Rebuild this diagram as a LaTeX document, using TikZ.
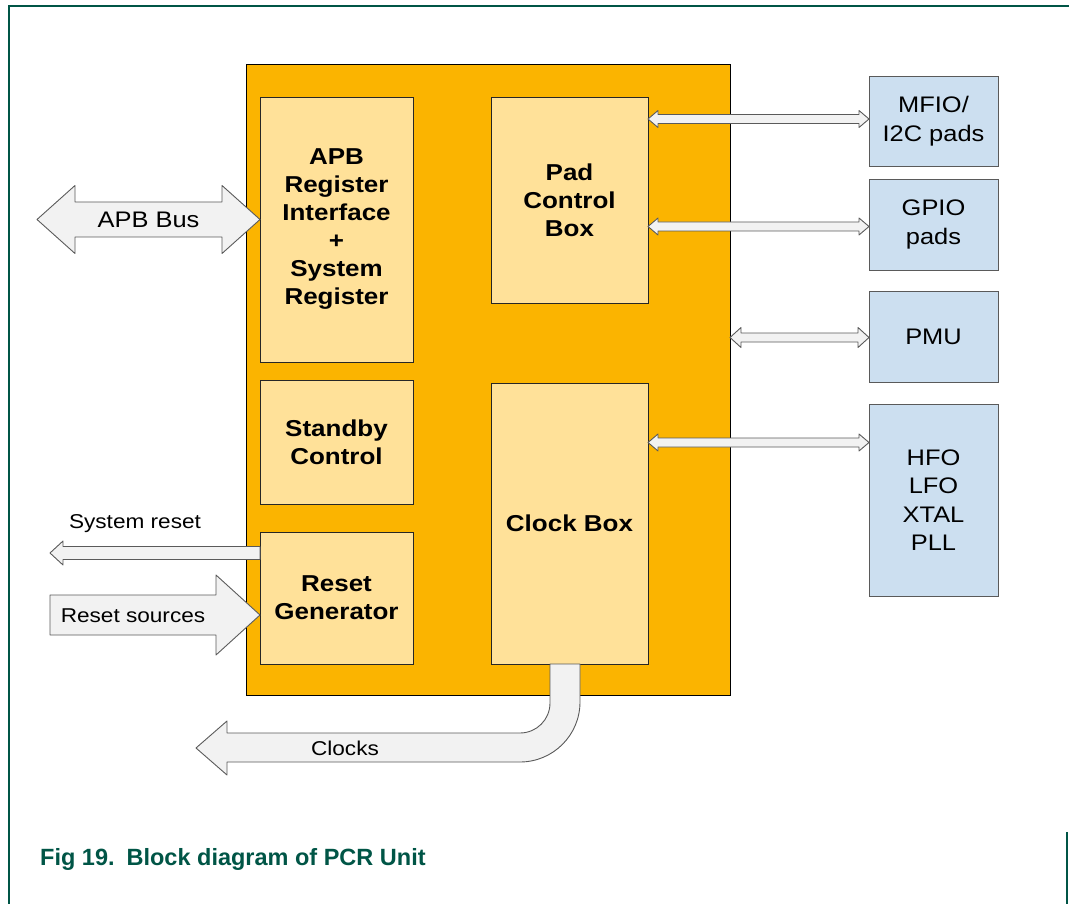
\documentclass[tikz,border=0pt]{standalone}
\usepackage{fontspec}
\setmainfont{Liberation Sans}[FakeStretch=1.13]
\newfontfamily\capfont{Liberation Sans}
\usetikzlibrary{calc}
\definecolor{pcrorange}{RGB}{251,180,0}
\definecolor{blkfill}{RGB}{255,225,153}
\definecolor{extfill}{RGB}{204,223,240}
\definecolor{arrfill}{RGB}{242,242,242}
\definecolor{arrline}{RGB}{90,90,90}
\definecolor{nxpgreen}{RGB}{0,85,70}
\tikzset{
  pcr/.style={draw=black, fill=pcrorange, anchor=north west, inner sep=0pt, outer sep=0pt, line width=1pt},
  blk/.style={draw=black!85, fill=blkfill, align=center, anchor=north west, inner sep=0pt, outer sep=0pt,
    line width=0.9pt, font=\fontsize{23pt}{28pt}\selectfont\bfseries},
  ext/.style={draw=arrline, fill=extfill, align=center, anchor=north west, inner sep=0pt, outer sep=0pt,
    line width=0.9pt, font=\fontsize{22.5pt}{28.5pt}\selectfont},
  arrowbody/.style={draw=arrline, fill=arrfill, line width=0.9pt, line join=round},
  lbl/.style={inner sep=0pt, font=\fontsize{20pt}{24pt}\selectfont},
  frameline/.style={draw=nxpgreen, line width=1.4pt}
}
% block arrow with two heads: left end, right end, half shaft, half head, head length
\newcommand{\twoway}[5]{%
  \draw[arrowbody] let \p1=(#1), \p2=(#2) in
    (\x1,\y1) -- ({\x1+#5pt},{\y1+#4pt}) -- ({\x1+#5pt},{\y1+#3pt})
    -- ({\x2-#5pt},{\y2+#3pt}) -- ({\x2-#5pt},{\y2+#4pt}) -- (\x2,\y2)
    -- ({\x2-#5pt},{\y2-#4pt}) -- ({\x2-#5pt},{\y2-#3pt})
    -- ({\x1+#5pt},{\y1-#3pt}) -- ({\x1+#5pt},{\y1-#4pt}) -- cycle;}
% block arrow with one head: tail, tip, half shaft, half head, signed head length
\newcommand{\oneway}[5]{%
  \draw[arrowbody] let \p1=(#1), \p2=(#2) in
    (\x1,{\y1+#3pt}) -- ({\x2-(#5pt)},{\y2+#3pt}) -- ({\x2-(#5pt)},{\y2+#4pt}) -- (\x2,\y2)
    -- ({\x2-(#5pt)},{\y2-#4pt}) -- ({\x2-(#5pt)},{\y2-#3pt}) -- (\x1,{\y1-#3pt}) -- cycle;}

\begin{document}
\begin{tikzpicture}[x=1pt, y=-1pt]
  \useasboundingbox (0,0) rectangle (1069,904);
  \draw[frameline] (1069,6) -- (9,6) -- (9,904);
  \draw[frameline] (1067,832) -- (1067,904);

  % PCR unit and its blocks
  \node[pcr, minimum width=484pt, minimum height=630pt] (pcr) at (246,65) {};
  \node[blk, minimum width=153pt, minimum height=265pt] (apb) at (260,97)
    {APB\\Register\\Interface\\+\\System\\Register};
  \node[blk, minimum width=153pt, minimum height=124pt] (sby) at (260,380) {Standby\\Control};
  \node[blk, minimum width=153pt, minimum height=132pt] (rst) at (260,532) {Reset\\Generator};
  \node[blk, minimum width=157pt, minimum height=206pt] (pad) at (491,97) {Pad\\Control\\Box};
  \node[blk, minimum width=157pt, minimum height=281pt] (clk) at (491,383) {Clock Box};

  % external blocks
  \node[ext, minimum width=129pt, minimum height=90pt] (mfio) at (869,76) {MFIO/\\I2C pads};
  \node[ext, minimum width=129pt, minimum height=91pt] (gpio) at (869,179) {GPIO\\pads};
  \node[ext, minimum width=129pt, minimum height=91pt] (pmu) at (869,291) {PMU};
  \node[ext, minimum width=129pt, minimum height=192pt] (osc) at (869,404) {HFO\\LFO\\XTAL\\PLL};

  % bus side
  \coordinate (apbend) at (37,219.5);
  \twoway{apbend}{apb.west |- apbend}{17.5}{34}{38}
  \node[lbl, font=\fontsize{22.5pt}{27pt}\selectfont] (apblbl) at ($(apbend)!0.5!(apb.west |- apbend)$) {APB Bus};

  % resets
  \coordinate (sysend) at (50,553);
  \coordinate (sysout) at ([yshift=-21pt]rst.north west);
  \oneway{sysout}{sysend}{6.5}{12}{-13}
  \node[lbl] (syslbl) at (135,524) {System reset};
  \coordinate (srcend) at (50,615);
  \coordinate (srcin) at ([yshift=-17pt]rst.west);
  \oneway{srcend}{srcin}{20}{40}{44}
  \node[lbl] (srclbl) at (133,616) {Reset sources};

  % clocks out
  \coordinate (ck1) at ([xshift=-19.5pt]clk.south);
  \coordinate (ck2) at ([xshift=10.5pt]clk.south);
  \coordinate (clkend) at (196,748);
  \draw[arrowbody] (ck1) -- (550,703) .. controls (550,719.6) and (536.6,733) .. (520,733)
    -- (227,733) -- (227,721) -- (clkend) -- (227,775) -- (227,762) -- (520,762)
    .. controls (553.1,762) and (580,735.1) .. (580,702) -- (ck2) -- cycle;
  \node[lbl] (clklbl) at (345,748) {Clocks};

  % pad and oscillator links
  \coordinate (mfiop) at ([yshift=2pt]mfio.west);
  \coordinate (gpiop) at ([yshift=-2pt]gpio.west);
  \coordinate (pmup) at ([yshift=-1pt]pmu.west);
  \coordinate (oscp) at ([yshift=-38.5pt]osc.north west);
  \twoway{pad.east |- mfiop}{mfiop}{4.5}{8.5}{10}
  \twoway{pad.east |- gpiop}{gpiop}{4.5}{8.5}{10}
  \twoway{pcr.east |- pmup}{pmup}{4.5}{10}{11}
  \twoway{clk.east |- oscp}{oscp}{4.5}{8.5}{10}

  \node[anchor=base west, inner sep=0pt, text=nxpgreen, font=\capfont\bfseries\fontsize{23.5pt}{28pt}\selectfont]
    (cap) at (40,865) {Fig 19.\hspace{12pt}Block diagram of PCR Unit};
\end{tikzpicture}
\end{document}
